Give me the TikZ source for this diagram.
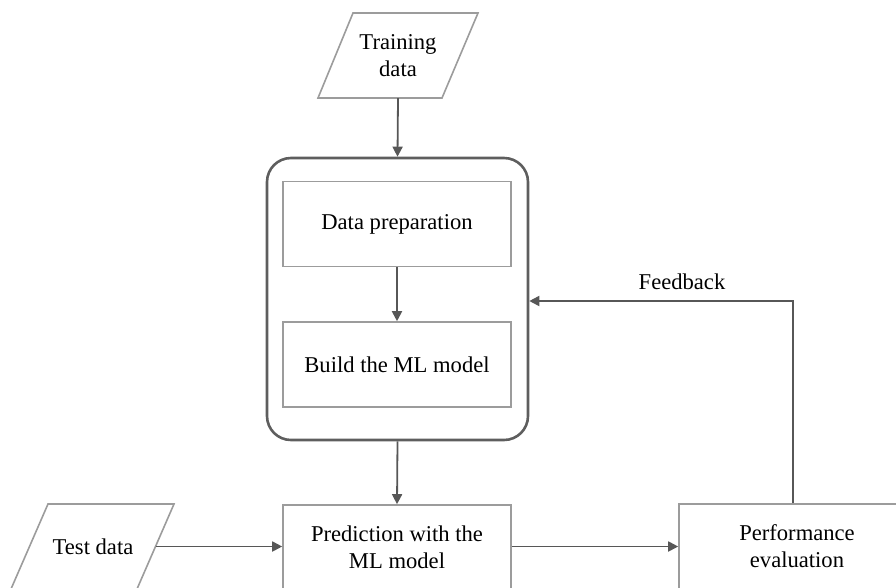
\documentclass[tikz,border=0pt]{standalone}
\usepackage{fontspec}
\setmainfont{Liberation Serif}
\usetikzlibrary{arrows.meta,calc}
\definecolor{linegray}{HTML}{575757}
\definecolor{boxgray}{HTML}{9C9C9C}
\definecolor{outergray}{HTML}{5E5E5E}
\tikzset{
  txt/.style={font=\fontsize{22.6}{27}\selectfont, align=center, text=black, inner sep=0pt},
  procbox/.style={txt, draw=boxgray, line width=1.6pt, minimum width=228pt, minimum height=85pt},
  area/.style={txt, minimum width=125pt, minimum height=85pt},
  outerbox/.style={draw=outergray, line width=2.6pt, rounded corners=24pt, minimum width=261pt, minimum height=282pt, inner sep=0pt},
  pshape/.style={draw=boxgray, line width=1.6pt, line join=miter},
  arr/.style={draw=linegray, line width=1.8pt, -{Triangle[length=10pt,width=10pt]}},
}
\begin{document}
\begin{tikzpicture}[x=1pt,y=-1pt]
\useasboundingbox (0,0) rectangle (896,587);
\clip (0,0) rectangle (896,587);
% training data
\draw[pshape] (353,13) -- (478,13) -- (442,98) -- (318,98) -- cycle;
\node[area, minimum width=90pt] (train) at (398,55.5) {Training\\data};
% outer container
\node[outerbox] (outer) at (397.5,299) {};
\node[procbox] (prep) at (397,224) {Data preparation};
\node[procbox] (build) at (397,364.5) {Build the ML model};
% bottom row
\draw[pshape] (48,504) -- (174,504) -- (137,589) -- (11,589) -- cycle;
\node[area] (test) at (93,546.5) {Test data};
\node[procbox] (pred) at (397,547.5) {Prediction with the\\ML model};
\node[procbox, minimum width=236pt] (perf) at (797,546.5) {Performance\\evaluation};
% connectors
\draw[arr] (train.south) -- (outer.north);
\draw[arr] (prep.south) -- (build.north);
\draw[arr] (outer.south) -- (pred.north);
\draw[arr] (test.east) -- (test.east -| pred.west);
\draw[arr] (pred.east |- test.east) -- (test.east -| perf.west);
\coordinate (fbturn) at (793,301);
\draw[arr] (perf.north -| fbturn) -- (fbturn) -- (fbturn -| outer.east);
\node[txt] (fblabel) at (682,282) {Feedback};
\end{tikzpicture}
\end{document}
